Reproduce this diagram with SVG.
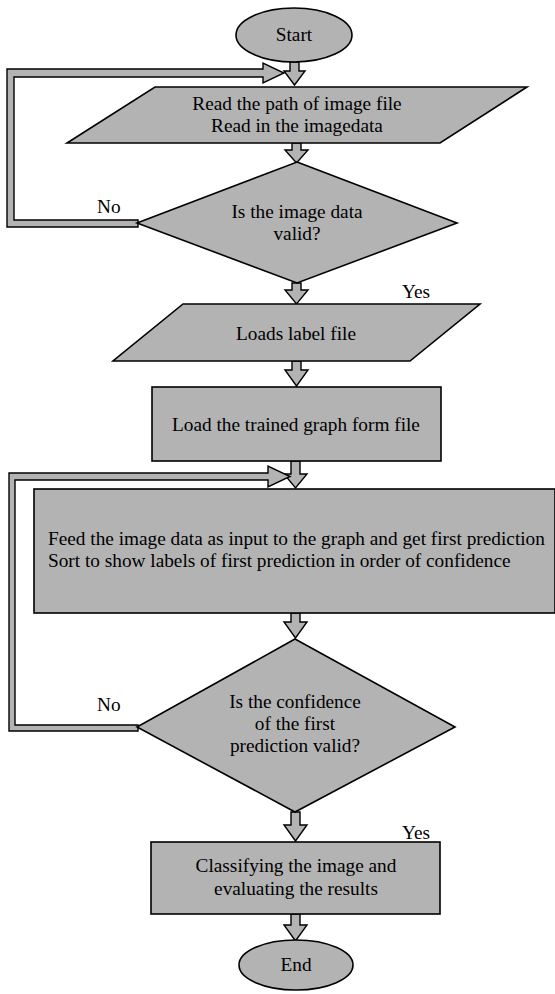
<svg xmlns="http://www.w3.org/2000/svg" width="555" height="994" viewBox="0 0 555 994">
  <style>
    .shape { fill: #b3b3b3; stroke: #000; stroke-width: 1.6; stroke-linejoin: miter; }
    .flow { fill: #b3b3b3; stroke: #000; stroke-width: 1.4; stroke-linejoin: miter; }
    text { font-family: "Liberation Serif", "Times New Roman", serif; font-size: 19.3px; fill: #000; }
    .c { text-anchor: middle; }
  </style>
  <rect width="555" height="994" fill="#fff"/>

  <!-- connectors: block arrows and loop-back channels -->
  <g id="connectors">
    <!-- Start -> read path -->
    <polygon class="flow" points="290,62 299,62 299,71 305,71 294.5,85 284,71 290,71"/>
    <!-- read path -> validity check -->
    <polygon class="flow" points="292,143 301,143 301,150 308,150 296.5,163 285,150 292,150"/>
    <!-- validity check (yes) -> labels -->
    <polygon class="flow" points="292,283 301,283 301,290 308,290 296.5,304 285,290 292,290"/>
    <!-- labels -> trained graph -->
    <polygon class="flow" points="292,361 301,361 301,370 308,370 296.5,386 285,370 292,370"/>
    <!-- trained graph -> prediction -->
    <polygon class="flow" points="291,461 300,461 300,474 307,474 295.5,488 284,474 291,474"/>
    <!-- prediction -> confidence check -->
    <polygon class="flow" points="291,613 300,613 300,622 307,622 295.5,638 284,622 291,622"/>
    <!-- confidence check (yes) -> classify -->
    <polygon class="flow" points="291,812 300,812 300,825 307,825 295.5,841 284,825 291,825"/>
    <!-- classify -> End -->
    <polygon class="flow" points="291,914 300,914 300,925 307,925 295.5,941 284,925 291,925"/>

    <!-- loop back: invalid image data -->
    <polygon class="flow" points="138,227 7,227 7,69 263,69 263,63 284,73 263,83 263,77 14,77 14,220 138,220"/>
    <!-- loop back: invalid confidence -->
    <polygon class="flow" points="138,731 9,731 9,473 268,473 268,466 290,476.5 268,487 268,480 15,480 15,725 138,725"/>
  </g>

  <g id="start">
    <ellipse class="shape" cx="294" cy="35" rx="58" ry="27"/>
    <text class="c" x="294" y="41">Start</text>
  </g>

  <g id="read-image">
    <polygon class="shape" points="155,87 527,87 440,143 67,143"/>
    <text class="c" x="297" y="110">Read the path of image file</text>
    <text class="c" x="297" y="132">Read in the imagedata</text>
  </g>

  <g id="check-image">
    <polygon class="shape" points="297,162 457,223 297,283 137,223"/>
    <text class="c" x="297" y="218">Is the image data</text>
    <text class="c" x="297" y="240">valid?</text>
  </g>
  <text x="97" y="213">No</text>
  <text x="402" y="298">Yes</text>

  <g id="load-labels">
    <polygon class="shape" points="183,304 480,304 410,361 113,361"/>
    <text class="c" x="296" y="340">Loads label file</text>
  </g>

  <g id="load-graph">
    <rect class="shape" x="152" y="387" width="289" height="74"/>
    <text class="c" x="296" y="431">Load the trained graph form file</text>
  </g>

  <g id="predict">
    <rect class="shape" x="34" y="489" width="521" height="124"/>
    <text x="48" y="545">Feed the image data as input to the graph and get first prediction</text>
    <text x="48" y="567">Sort to show labels of first prediction in order of confidence</text>
  </g>

  <g id="check-confidence">
    <polygon class="shape" points="295,639 455,727 295,812 137,727"/>
    <text class="c" x="295" y="708">Is the confidence</text>
    <text class="c" x="295" y="730">of the first</text>
    <text class="c" x="295" y="752">prediction valid?</text>
  </g>
  <text x="97" y="711">No</text>
  <text x="402" y="839">Yes</text>

  <g id="classify">
    <rect class="shape" x="151" y="842" width="289" height="72"/>
    <text class="c" x="296" y="872">Classifying the image and</text>
    <text class="c" x="296" y="895">evaluating the results</text>
  </g>

  <g id="end">
    <ellipse class="shape" cx="296" cy="965" rx="57" ry="25"/>
    <text class="c" x="296" y="971">End</text>
  </g>
</svg>
